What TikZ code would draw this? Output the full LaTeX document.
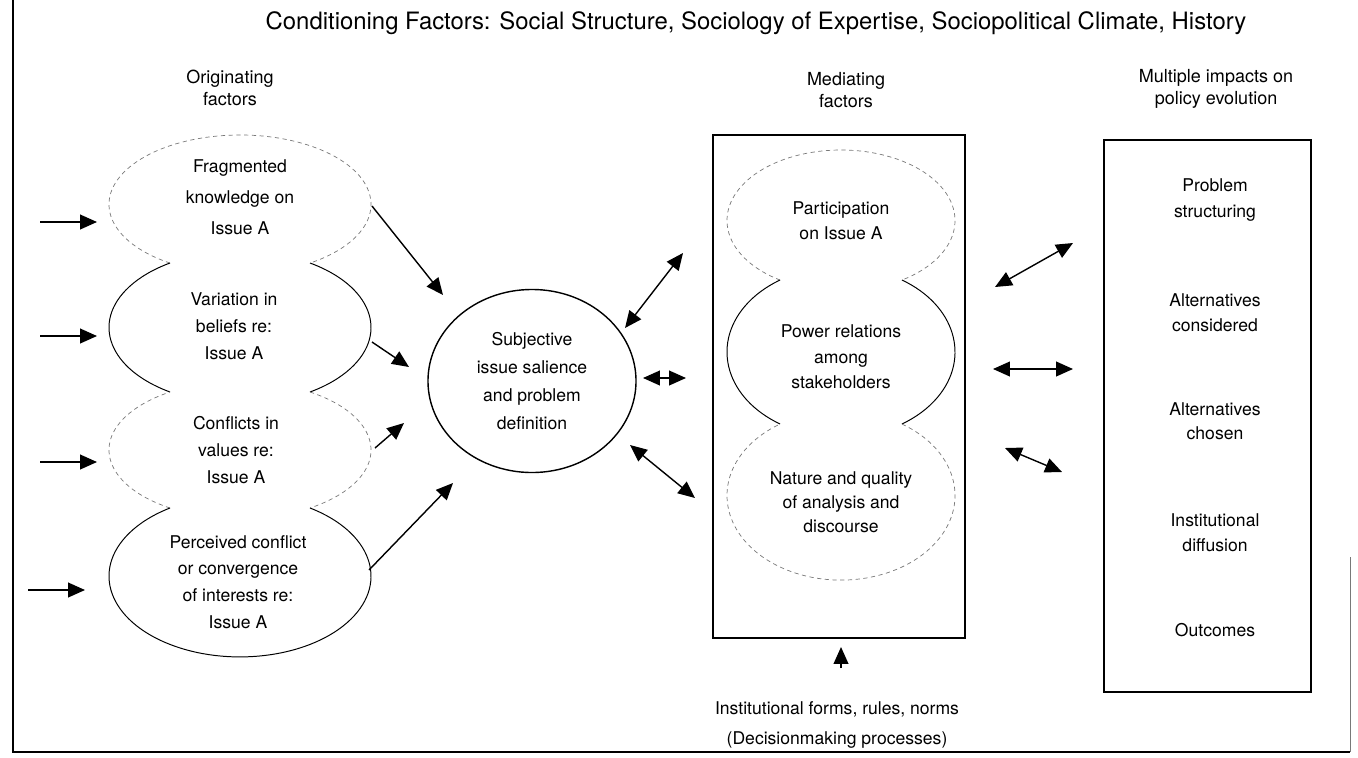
\documentclass[tikz,border=0pt]{standalone}
\usepackage{fontspec}
\setmainfont{TeX Gyre Heros}
\usetikzlibrary{arrows.meta,shapes.geometric,positioning,calc}
\definecolor{lobegray}{RGB}{120,120,120}
\tikzstyle{arrow} = [line width=1pt,-{Triangle[length=12pt,width=10.5pt]}]
\tikzstyle{darrow} = [line width=1pt,{Triangle[length=12pt,width=10.5pt]}-{Triangle[length=12pt,width=10.5pt]}]
\tikzstyle{lobesolid} = [line width=0.7pt]
\tikzstyle{lobedash} = [line width=0.5pt, lobegray, dash pattern=on 3pt off 2.5pt]
\tikzstyle{box} = [rectangle, draw, line width=1.2pt, inner sep=0pt, outer sep=0pt]
\tikzstyle{txt} = [align=center, font=\fontsize{12.5}{19}\selectfont]
\tikzstyle{hdr} = [align=center, font=\fontsize{12.8}{15.5}\selectfont]

\begin{document}
\begin{tikzpicture}[x=0.025cm, y=-0.025cm]
\useasboundingbox (0,0) rectangle (1358,757);
% frame
\draw[line width=1.3pt] (13,0) -- (13,752) -- (1350,752);
\draw[lobegray, line width=0.5pt] (1350,557) -- (1350,752);

% title and headings
\node (title) [font=\fontsize{17}{20}\selectfont] at (756,23) {Conditioning Factors: Social Structure, Sociology of Expertise, Sociopolitical Climate, History};
\node (orighdr) [hdr] at (230,88) {Originating\\factors};
\node (medhdr) [hdr] at (846,90) {Mediating\\factors};
\node (imphdr) [hdr] at (1216,89) {Multiple impacts on\\policy evolution};

% originating lobes
\draw[lobedash] ($(240,204.4)+(122.3:131 and 69.4)$) arc[start angle=122.3, end angle=417.7, x radius=131, y radius=69.4];
\draw[lobesolid] ($(240,327.5)+(-57.7:131 and 76.3)$) arc[start angle=-57.7, end angle=57.7, x radius=131, y radius=76.3];
\draw[lobesolid] ($(240,327.5)+(122.3:131 and 76.3)$) arc[start angle=122.3, end angle=237.7, x radius=131, y radius=76.3];
\draw[lobedash] ($(240,450)+(-57.7:131 and 68.6)$) arc[start angle=-57.7, end angle=57.7, x radius=131, y radius=68.6];
\draw[lobedash] ($(240,450)+(122.3:131 and 68.6)$) arc[start angle=122.3, end angle=237.7, x radius=131, y radius=68.6];
\draw[lobesolid] ($(240,576.2)+(-57.7:131 and 80.7)$) arc[start angle=-57.7, end angle=237.7, x radius=131, y radius=80.7];

\node (frag) [txt, font=\fontsize{12.5}{22}\selectfont] at (240,197) {Fragmented\\knowledge on\\Issue A};
\node (vari) [txt] at (234,326) {Variation in\\beliefs re:\\Issue A};
\node (conf) [txt] at (236,450) {Conflicts in\\values re:\\Issue A};
\node (perc) [txt] at (238,582) {Perceived conflict\\or convergence\\of interests re:\\Issue A};

% subjective salience
\node (subj) [ellipse, draw, line width=1pt, minimum width=5.2cm, minimum height=4.575cm, txt, font=\fontsize{12.5}{20}\selectfont] at (532,381) {Subjective\\issue salience\\and problem\\definition};

% mediating factors
\node (medbox) [box, minimum width=6.3cm, minimum height=12.575cm] at (839,386.5) {};
\draw[lobedash] ($(841,220.5)+(122.3:114 and 70.5)$) arc[start angle=122.3, end angle=417.7, x radius=114, y radius=70.5];
\draw[lobesolid] ($(841,352)+(-57.7:114 and 85.2)$) arc[start angle=-57.7, end angle=57.7, x radius=114, y radius=85.2];
\draw[lobesolid] ($(841,352)+(122.3:114 and 85.2)$) arc[start angle=122.3, end angle=237.7, x radius=114, y radius=85.2];
\draw[lobedash] ($(841,495.5)+(-57.7:114 and 84.6)$) arc[start angle=-57.7, end angle=237.7, x radius=114, y radius=84.6];

\node (part) [txt, font=\fontsize{12.5}{18}\selectfont] at (841,221) {Participation\\on Issue A};
\node (powr) [txt, font=\fontsize{12.5}{18}\selectfont] at (841,357) {Power relations\\among\\stakeholders};
\node (natu) [txt, font=\fontsize{12.5}{17}\selectfont] at (841,502) {Nature and quality\\of analysis and\\discourse};

% impacts
\node (impbox) [box, minimum width=5.175cm, minimum height=13.8cm] at (1207.5,416) {};
\node (prob) [txt, font=\fontsize{12.5}{18}\selectfont] at (1215,200) {Problem\\structuring};
\node (altc) [txt, font=\fontsize{12.5}{18}\selectfont] at (1215,313) {Alternatives\\considered};
\node (alch) [txt, font=\fontsize{12.5}{17}\selectfont] at (1215,421) {Alternatives\\chosen};
\node (insd) [txt, font=\fontsize{12.5}{18}\selectfont] at (1215,533) {Institutional\\diffusion};
\node (outc) [txt] at (1215,630) {Outcomes};

% institutional forms
\node (inst) [txt, font=\fontsize{12.5}{21}\selectfont] at (837,725) {Institutional forms, rules, norms\\(Decisionmaking processes)};

% arrow ends
\coordinate (in1a) at (40,222);  \coordinate (in1b) at (97,222);
\coordinate (in2a) at (40,336);  \coordinate (in2b) at (97,336);
\coordinate (in3a) at (40,462);  \coordinate (in3b) at (97,462);
\coordinate (in4a) at (28,590);  \coordinate (in4b) at (85,590);
\coordinate (fr1) at (372,206);  \coordinate (fr2) at (443,295);
\coordinate (va1) at (372,342);  \coordinate (va2) at (409,367);
\coordinate (co1) at (375,448);  \coordinate (co2) at (404,423);
\coordinate (pe1) at (369,570);  \coordinate (pe2) at (453,483);
\coordinate (sm1a) at (625,328); \coordinate (sm1b) at (683,253);
\coordinate (sm2a) at (643,378); \coordinate (sm2b) at (686,378);
\coordinate (sm3a) at (630,445); \coordinate (sm3b) at (695,498);
\coordinate (mi1a) at (995,287); \coordinate (mi1b) at (1073,243);
\coordinate (mi2a) at (993,369); \coordinate (mi2b) at (1073,369);
\coordinate (mi3a) at (1005,448); \coordinate (mi3b) at (1062,472);
\coordinate (upa) at (841,668);  \coordinate (upb) at (841,647);

% connectors
\draw[arrow] (in1a) -- (in1b);
\draw[arrow] (in2a) -- (in2b);
\draw[arrow] (in3a) -- (in3b);
\draw[arrow] (in4a) -- (in4b);
\draw[arrow] (fr1) -- (fr2);
\draw[arrow] (va1) -- (va2);
\draw[arrow] (co1) -- (co2);
\draw[arrow] (pe1) -- (pe2);
\draw[darrow] (sm1a) -- (sm1b);
\draw[darrow] (sm2a) -- (sm2b);
\draw[darrow] (sm3a) -- (sm3b);
\draw[darrow] (mi1a) -- (mi1b);
\draw[darrow] (mi2a) -- (mi2b);
\draw[darrow] (mi3a) -- (mi3b);
\draw[arrow] (upa) -- (upb);
\end{tikzpicture}
\end{document}
